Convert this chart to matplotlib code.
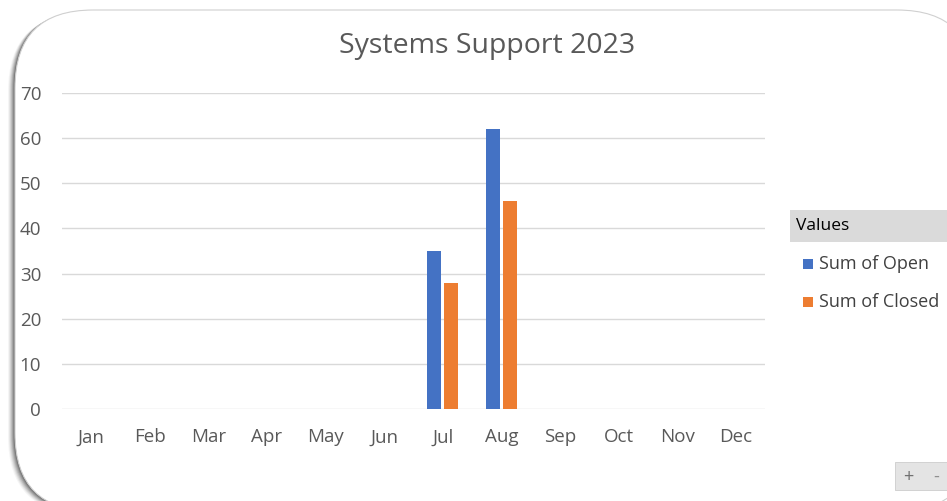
import numpy as np
import matplotlib.pyplot as plt
from matplotlib.patches import FancyBboxPatch, Rectangle

months = ["Jan", "Feb", "Mar", "Apr", "May", "Jun",
          "Jul", "Aug", "Sep", "Oct", "Nov", "Dec"]
open_vals = [0, 0, 0, 0, 0, 0, 35, 62, 0, 0, 0, 0]
closed_vals = [0, 0, 0, 0, 0, 0, 28, 46, 0, 0, 0, 0]
series_names = ["Sum of Open", "Sum of Closed"]
colors = ["#4472c4", "#ed7d31"]
yticks = [0, 10, 20, 30, 40, 50, 60, 70]

plt.rcParams['font.family'] = ['Open Sans', 'DejaVu Sans']

W, H = 947, 501
fig = plt.figure(figsize=(W / 100, H / 100), dpi=100)
fig.patch.set_facecolor("white")

# rounded frame with soft shadow on the left/bottom
for i, a in enumerate([0.04, 0.06, 0.08, 0.10, 0.13, 0.16, 0.2]):
    off = (7 - i) * 1.0 / 100
    sh = FancyBboxPatch((0.15 - off, -0.1 - off * 0.5), 9.6, 5.01, boxstyle="round,pad=0,rounding_size=0.78",
                        transform=fig.dpi_scale_trans, facecolor="black", edgecolor="none",
                        alpha=a, zorder=0)
    fig.patches.append(sh)
frame = FancyBboxPatch((0.15, -0.1), 9.6, 5.01, boxstyle="round,pad=0,rounding_size=0.78",
                       transform=fig.dpi_scale_trans, facecolor="white", edgecolor="#d0d0d0",
                       linewidth=0.8, zorder=1)
fig.patches.append(frame)

ax = fig.add_axes([62 / W, 1 - 409 / H, (765 - 62) / W, (409 - 93) / H])
ax.set_zorder(2)
ax.patch.set_alpha(0)

x = np.arange(len(months))
ax.bar(x - 0.145, open_vals, width=0.235, color=colors[0], zorder=3)
ax.bar(x + 0.145, closed_vals, width=0.235, color=colors[1], zorder=3)

ax.set_xlim(-0.5, len(months) - 0.5)
ax.set_ylim(0, 70)
ax.set_yticks(yticks)
ax.set_xticks(x)
ax.set_xticklabels(months)
ax.grid(axis="y", color="#d9d9d9", linewidth=1.0, zorder=0)
for s in ax.spines.values():
    s.set_visible(False)
ax.tick_params(length=0, labelsize=13.5, labelcolor="#595959")
ax.tick_params(axis="y", pad=15)
ax.tick_params(axis="x", pad=14)

fig.text(487 / W, 1 - 46 / H, "Systems Support 2023", ha="center", va="center",
         fontsize=20.5, color="#595959", zorder=5)

# legend
fig.patches.append(Rectangle((790 / W, 1 - 242 / H), 160 / W, 32 / H, transform=fig.transFigure,
                             facecolor="#dadada", edgecolor="none", zorder=4))
fig.text(796 / W, 1 - 226 / H, "Values", ha="left", va="center", fontsize=12.5, color="black", zorder=5)
for i, (name, c) in enumerate(zip(series_names, colors)):
    yc = 264 + i * 38
    fig.patches.append(Rectangle((803 / W, 1 - (yc + 5) / H), 10 / W, 10 / H, transform=fig.transFigure,
                                 facecolor=c, edgecolor="none", zorder=5))
    fig.text(819 / W, 1 - yc / H, name, ha="left", va="center", fontsize=13, color="#404040", zorder=5)

# +/- buttons in corner
fig.patches.append(Rectangle((895 / W, 1 - 490 / H), 52 / W, 28 / H, transform=fig.transFigure,
                             facecolor="#e4e4e4", edgecolor="#cccccc", linewidth=0.6, zorder=4))
fig.text(908 / W, 1 - 477 / H, "+", ha="center", va="center", fontsize=13, color="#707070", zorder=5)
fig.text(936 / W, 1 - 477 / H, "-", ha="center", va="center", fontsize=13, color="#909090", zorder=5)

fig.savefig("out.png", dpi=100)
